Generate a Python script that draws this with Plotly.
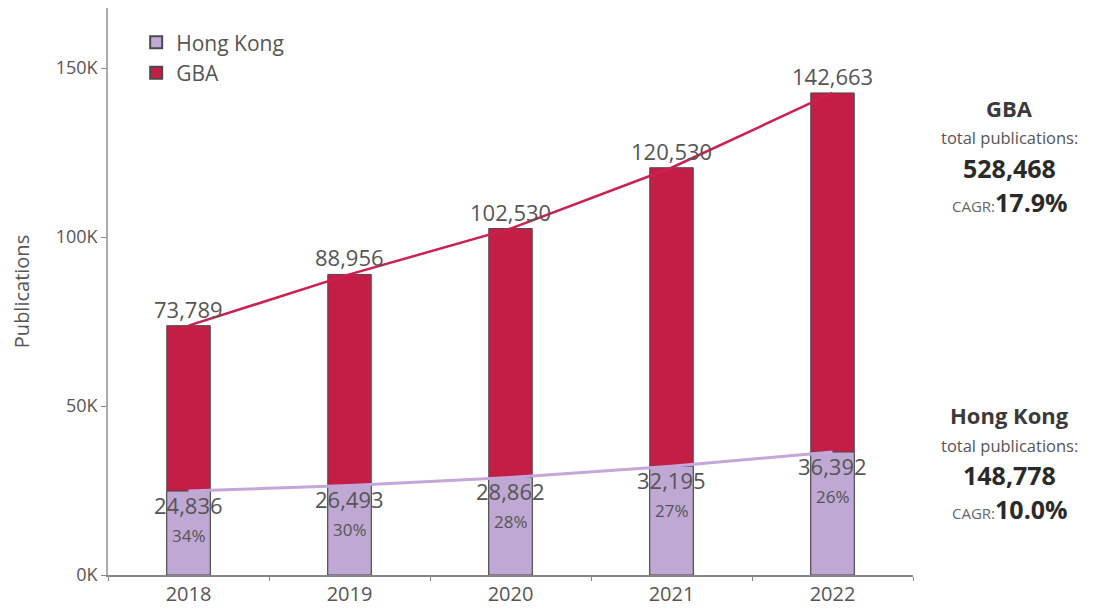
import plotly.graph_objects as go

years = ["2018", "2019", "2020", "2021", "2022"]
gba = [73789, 88956, 102530, 120530, 142663]
hong_kong = [24836, 26493, 28862, 32195, 36392]
hk_share = ["34%", "30%", "28%", "27%", "26%"]
y_ticks = [0, 50000, 100000, 150000]
y_tick_text = ["0K", "50K", "100K", "150K"]

gba_color = "#c41e47"
hk_color = "#bfa8d3"
font_name = "Open Sans"
grey = "#555555"

fig = go.Figure()

fig.add_trace(go.Bar(x=years, y=gba, name="GBA", width=0.27,
                     marker=dict(color=gba_color, line=dict(color="#4a4a4a", width=1))))
fig.add_trace(go.Bar(x=years, y=hong_kong, name="Hong Kong", width=0.27,
                     marker=dict(color=hk_color, line=dict(color="#4a4a4a", width=1))))

fig.add_trace(go.Scatter(x=years, y=gba, mode="lines", showlegend=False,
                         line=dict(color="#cc2050", width=2.5)))
fig.add_trace(go.Scatter(x=years, y=hong_kong, mode="lines", showlegend=False,
                         line=dict(color="#c4a6d8", width=3)))

# value labels (category index used as x position)
for i, (g, h, p) in enumerate(zip(gba, hong_kong, hk_share)):
    fig.add_annotation(x=i, y=g, text=f"{g:,}", showarrow=False, yanchor="bottom",
                       yshift=0, font=dict(size=22, color=grey))
    fig.add_annotation(x=i, y=h, text=f"{h:,}", showarrow=False, yanchor="middle",
                       yshift=-14, font=dict(size=22, color=grey))
    fig.add_annotation(x=i, y=h, text=p, showarrow=False, yanchor="middle",
                       yshift=-44, font=dict(size=17, color=grey))

# side summary
def summary(y0, title, total, cagr):
    common = dict(xref="paper", yref="paper", x=1.12, showarrow=False,
                  xanchor="center", yanchor="middle")
    fig.add_annotation(y=y0, text=f"<b>{title}</b>",
                       font=dict(size=22, color="#3a3a3a"), **common)
    fig.add_annotation(y=y0 - 0.053, text="total publications:",
                       font=dict(size=16.5, color=grey), **common)
    fig.add_annotation(y=y0 - 0.106, text=f"<b>{total}</b>",
                       font=dict(size=25, color="#2a2a2a"), **common)
    fig.add_annotation(y=y0 - 0.166,
                       text=f"<span style='font-size:15px;color:#666'>CAGR:</span><b>{cagr}</b>",
                       font=dict(size=25, color="#2a2a2a"), **common)

summary(0.824, "GBA", f"{sum(gba):,}", "17.9%")
summary(0.282, "Hong Kong", f"{sum(hong_kong):,}", "10.0%")

fig.update_layout(
    width=1094, height=610,
    barmode="overlay",
    plot_bgcolor="white", paper_bgcolor="white",
    margin=dict(l=100, r=189, t=0, b=43),
    font=dict(family=font_name, color=grey),
    legend=dict(x=0.035, y=0.975, xanchor="left", yanchor="top", traceorder="reversed",
                font=dict(size=21, color=grey), bgcolor="rgba(0,0,0,0)",
                itemsizing="constant", tracegroupgap=0),
    xaxis=dict(type="category", range=[-0.5, 4.5], showline=True, linecolor="#888",
               linewidth=1.5, ticks="outside", tickson="boundaries", ticklen=4,
               tickcolor="#888", tickfont=dict(size=20, color=grey), showgrid=False),
    yaxis=dict(range=[0, 167800], tickvals=y_ticks, ticktext=y_tick_text, showline=True,
               linecolor="#aaa", linewidth=1.5, ticks="outside", ticklen=5, tickcolor="#888",
               tickfont=dict(size=18, color=grey), showgrid=False, zeroline=False,
               automargin=False,
               title=dict(text="Publications", font=dict(size=20, color=grey), standoff=24)),
)

fig.write_html("out.html")
